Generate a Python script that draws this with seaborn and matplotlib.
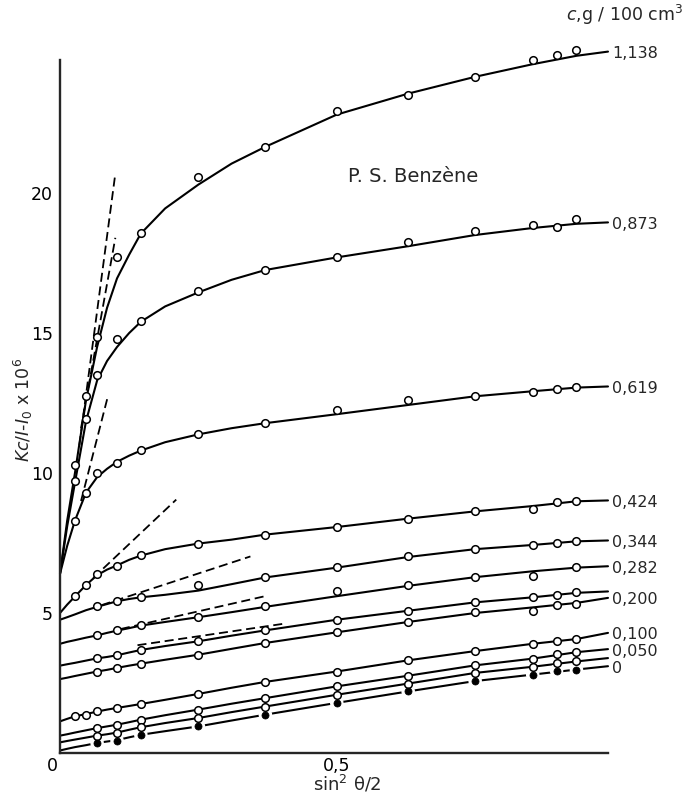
import matplotlib
matplotlib.use("Agg")
import matplotlib.pyplot as plt
import matplotlib.transforms as mtransforms
import pandas as pd
import seaborn as sns

# Scattering angles, expressed as sin^2(theta/2), at which intensities were measured
ANGLE_X = [0.027, 0.047, 0.067, 0.103, 0.146, 0.25, 0.371, 0.5, 0.629, 0.75, 0.854, 0.897, 0.933]

# Concentrations (g / 100 cm3); empty label = curve drawn without a tag
CONC_LABELS = ["1,138", "0,873", "0,619", "0,424", "0,344", "0,282", "",
               "0,200", "0,100", "0,050", "", "0"]
FILLED = [False] * 11 + [True]

# Measured Kc/(I - I0) x 10^6 values, one row per concentration (None = not measured)
MEASURED_Y = [
    [10.28, 12.74, 14.86, 17.72, 18.58, 20.56, 21.66, 22.94, 23.50, 24.13, 24.76, 24.94, 25.10],
    [9.72, 11.94, 13.49, 14.80, 15.44, 16.49, 17.26, 17.70, 18.24, 18.65, 18.86, 18.79, 19.07],
    [8.29, 9.27, 9.99, 10.37, 10.81, 11.39, 11.79, 12.24, 12.61, 12.74, 12.91, 13.00, 13.07],
    [5.59, 5.99, 6.39, 6.69, 7.06, 7.48, 7.80, 8.07, 8.37, 8.63, 8.71, 8.95, 8.99],
    [None, None, 5.24, 5.44, 5.57, 5.99, 6.29, 6.63, 7.02, 7.29, 7.42, 7.50, 7.58],
    [None, None, 4.22, 4.38, 4.56, 4.86, 5.24, 5.77, 5.99, 6.29, 6.33, None, 6.63],
    [None, None, 3.39, 3.49, 3.69, 3.99, 4.38, 4.76, 5.08, 5.38, 5.56, 5.65, 5.74],
    [None, None, 2.91, 3.04, 3.19, 3.51, 3.93, 4.31, 4.68, 5.02, 5.08, 5.30, 5.32],
    [1.31, 1.37, 1.49, 1.61, 1.75, 2.11, 2.54, 2.91, 3.31, 3.64, 3.90, 4.01, 4.07],
    [None, None, 0.89, 1.01, 1.19, 1.55, 1.96, 2.38, 2.76, 3.13, 3.37, 3.54, 3.61],
    [None, None, 0.62, 0.71, 0.93, 1.25, 1.66, 2.08, 2.48, 2.86, 3.06, 3.21, 3.27],
    [None, None, 0.36, 0.44, 0.65, 0.95, 1.37, 1.79, 2.20, 2.57, 2.80, 2.94, 2.97],
]

# Smoothed curves drawn through the measurements, extrapolated to zero angle
CURVE_X = [0, 0.013, 0.027, 0.047, 0.067, 0.085, 0.103, 0.125, 0.146, 0.19,
           0.25, 0.31, 0.371, 0.5, 0.629, 0.75, 0.854, 0.933, 0.99]
CURVE_Y = [
    [6.40, 8.30, 10.00, 12.60, 14.50, 15.90, 16.95, 17.80, 18.55, 19.45,
     20.30, 21.05, 21.65, 22.80, 23.55, 24.15, 24.60, 24.90, 25.05],
    [6.40, 8.10, 9.65, 11.85, 13.30, 14.00, 14.50, 15.00, 15.40, 15.95,
     16.45, 16.90, 17.25, 17.70, 18.10, 18.50, 18.75, 18.90, 18.95],
    [6.40, 7.40, 8.30, 9.30, 9.85, 10.15, 10.40, 10.62, 10.80, 11.10,
     11.38, 11.60, 11.78, 12.10, 12.43, 12.74, 12.92, 13.05, 13.09],
    [5.00, 5.30, 5.59, 6.00, 6.35, 6.55, 6.70, 6.90, 7.05, 7.28,
     7.48, 7.62, 7.80, 8.07, 8.37, 8.63, 8.82, 8.99, 9.02],
    [4.76, 4.85, 4.95, 5.10, 5.22, 5.32, 5.42, 5.50, 5.56, 5.65,
     5.80, 6.03, 6.27, 6.62, 7.00, 7.28, 7.43, 7.56, 7.59],
    [3.90, 3.97, 4.03, 4.12, 4.20, 4.29, 4.37, 4.46, 4.55, 4.68,
     4.85, 5.03, 5.22, 5.60, 5.97, 6.28, 6.49, 6.62, 6.67],
    [3.12, 3.17, 3.22, 3.30, 3.38, 3.43, 3.49, 3.59, 3.68, 3.82,
     3.99, 4.19, 4.38, 4.76, 5.08, 5.38, 5.56, 5.72, 5.77],
    [2.64, 2.69, 2.75, 2.83, 2.91, 2.97, 3.04, 3.12, 3.19, 3.33,
     3.51, 3.72, 3.93, 4.31, 4.68, 5.00, 5.20, 5.36, 5.54],
    [1.13, 1.22, 1.31, 1.39, 1.48, 1.55, 1.61, 1.68, 1.75, 1.90,
     2.11, 2.33, 2.54, 2.91, 3.31, 3.64, 3.90, 4.07, 4.29],
    [0.62, 0.67, 0.73, 0.81, 0.89, 0.95, 1.01, 1.10, 1.19, 1.35,
     1.55, 1.76, 1.96, 2.38, 2.76, 3.13, 3.37, 3.60, 3.71],
    [0.38, 0.43, 0.48, 0.55, 0.62, 0.67, 0.73, 0.83, 0.92, 1.07,
     1.25, 1.46, 1.66, 2.08, 2.48, 2.86, 3.08, 3.27, 3.39],
    [0.09, 0.15, 0.21, 0.28, 0.36, 0.41, 0.46, 0.56, 0.65, 0.78,
     0.95, 1.16, 1.37, 1.79, 2.20, 2.57, 2.80, 2.98, 3.10],
]

# Initial-slope tangents (start and end of each dashed segment)
TANGENT_X0 = [0.035, 0.038, 0.038, 0.060, 0.075, 0.110, 0.140]
TANGENT_Y0 = [11.0, 11.6, 9.0, 6.25, 5.28, 4.43, 3.85]
TANGENT_X1 = [0.100, 0.100, 0.086, 0.210, 0.344, 0.368, 0.402]
TANGENT_Y1 = [20.7, 18.4, 12.7, 9.05, 7.02, 5.59, 4.61]

# ---- tidy tables built from the arrays above ----
curve_df = pd.DataFrame(
    [{"series": i, "x": x, "y": y}
     for i, ys in enumerate(CURVE_Y) for x, y in zip(CURVE_X, ys)]
)
point_rows = []
for i, ys in enumerate(MEASURED_Y):
    for x, y in zip(ANGLE_X, ys):
        if y is not None:
            point_rows.append({"series": i, "x": x, "y": y, "filled": FILLED[i]})
points_df = pd.DataFrame(point_rows)
tangent_df = pd.DataFrame(
    [{"seg": k, "x": x, "y": y}
     for k in range(len(TANGENT_X0))
     for x, y in ((TANGENT_X0[k], TANGENT_Y0[k]), (TANGENT_X1[k], TANGENT_Y1[k]))]
)

sns.set_style("white")
plt.rcParams["font.family"] = ["DejaVu Sans"]
plt.rcParams["mathtext.fontset"] = "dejavusans"

fig = plt.figure(figsize=(6.84, 7.99), dpi=100)
ax = fig.add_axes([60 / 684, 46 / 799, 548 / 684, 693 / 799])

# smooth curves
sns.lineplot(data=curve_df, x="x", y="y", units="series", estimator=None,
             sort=False, color="black", linewidth=1.5, legend=False, ax=ax, zorder=2)
# dashed tangents
sns.lineplot(data=tangent_df, x="x", y="y", units="seg", estimator=None,
             sort=False, color="black", linewidth=1.3, linestyle=(0, (5, 2.6)),
             legend=False, ax=ax, zorder=2)

# open circles
open_pts = points_df[~points_df["filled"]]
sns.scatterplot(data=open_pts, x="x", y="y", s=30, color="white",
                edgecolor="black", linewidth=1.1, legend=False, ax=ax, zorder=4)
# filled dots for the pure solvent, with a white halo breaking the line
solid_pts = points_df[points_df["filled"]]
sns.scatterplot(data=solid_pts, x="x", y="y", s=95, color="white",
                edgecolor="none", legend=False, ax=ax, zorder=3)
sns.scatterplot(data=solid_pts, x="x", y="y", s=26, color="black",
                edgecolor="black", linewidth=0.5, legend=False, ax=ax, zorder=4)

for art in list(ax.lines) + list(ax.collections):
    art.set_clip_on(False)

# concentration tags at the right end of each curve
for lab, ys in zip(CONC_LABELS, CURVE_Y):
    if lab:
        ax.annotate(lab, xy=(CURVE_X[-1], ys[-1]), xytext=(3, -1.5),
                    textcoords="offset points", ha="left", va="center",
                    fontsize=11.5, annotation_clip=False)

ax.text(0.52, 20.6, "P. S. Benzène", fontsize=14, ha="left", va="center")
ax.text(0.914, 26.36, r"$c$,g / 100 cm$^3$", fontsize=12.5, ha="left",
        va="center", clip_on=False)

# axes
ax.set_xlim(0, 0.99)
ax.set_ylim(0, 24.75)
sns.despine(ax=ax)
for side in ("left", "bottom"):
    ax.spines[side].set_linewidth(1.7)
ax.set_xticks([0, 0.5])
ax.set_xticklabels(["0", "0,5"])
ax.set_yticks([5, 10, 15, 20])
ax.tick_params(direction="in", length=9, width=1.3, labelsize=12.5, pad=5,
               colors="black")
ax.tick_params(axis="x", pad=3)
zero_lbl = ax.get_xticklabels()[0]
zero_lbl.set_transform(zero_lbl.get_transform()
                       + mtransforms.ScaledTranslation(-8 / 100, 0, fig.dpi_scale_trans))

ax.set_xlabel(r"sin$^2$ θ/2", fontsize=13)
ax.set_ylabel(r"$Kc/I$-$I_0$ x 10$^6$", fontsize=12.5)
ax.xaxis.set_label_coords(0.524, -0.03)
ax.yaxis.set_label_coords(-0.046, 0.495)

fig.savefig("out.png", dpi=100, facecolor="white")
